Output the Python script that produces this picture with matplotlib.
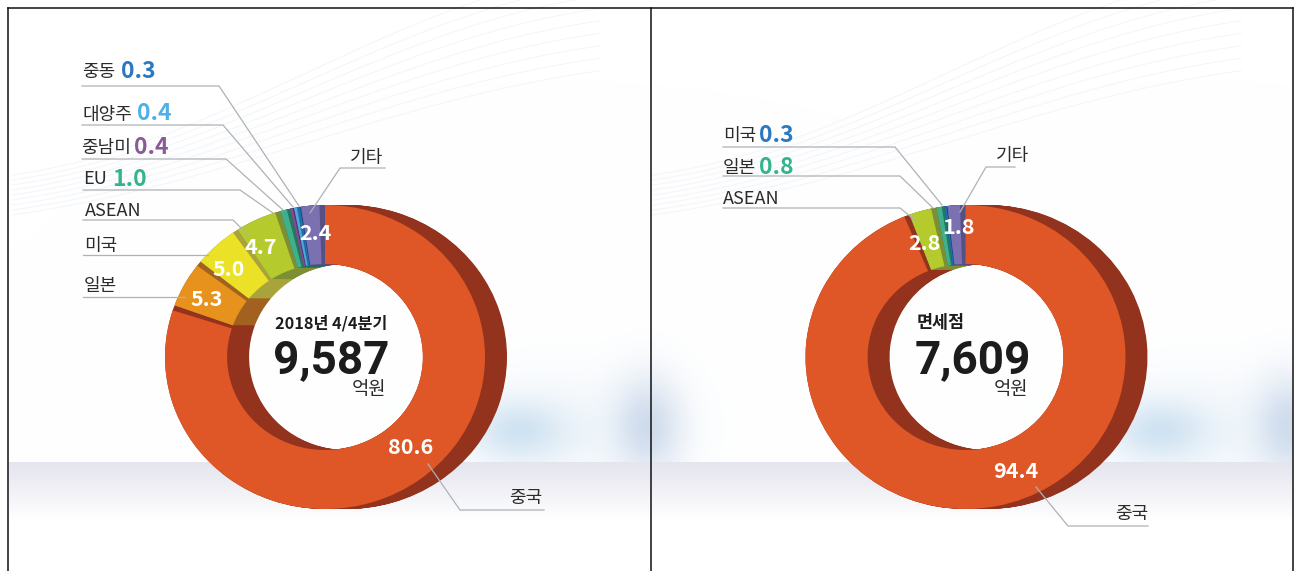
#!/usr/bin/env python3
"""Two 3D-look donut charts: 2018 Q4 e-commerce sales by region, all vs duty-free."""
import numpy as np
import matplotlib
matplotlib.use("Agg")
import matplotlib.pyplot as plt
from matplotlib.colors import to_rgb

plt.rcParams["font.family"] = ["Noto Sans CJK KR", "DejaVu Sans"]

W, H = 1303, 571

# left donut, clockwise from 12 o'clock
LEFT_NAMES = ["중국", "일본", "미국", "ASEAN", "EU", "중남미", "대양주", "중동", "기타"]
LEFT_VALUES = [80.6, 5.3, 5.0, 4.7, 1.0, 0.4, 0.4, 0.3, 2.4]
LEFT_TOTAL = "9,587"
LEFT_TITLE = "2018년 4/4분기"

# right donut
RIGHT_NAMES = ["중국", "ASEAN", "일본", "미국", "기타"]
RIGHT_VALUES = [94.4, 2.8, 0.8, 0.3, 1.8]
RIGHT_TOTAL = "7,609"
RIGHT_TITLE = "면세점"

UNIT = "억원"

# face colour, side colour
COLORS = {
    "중국": ("#df5726", "#94331d"),
    "일본": ("#e8921e", "#a3611f"),
    "미국": ("#ebe126", "#a8a33a"),
    "ASEAN": ("#b5cb2d", "#7e8f33"),
    "EU": ("#3fb08b", "#23785f"),
    "중남미": ("#7f4f8e", "#56306a"),
    "대양주": ("#4fa8dc", "#2f78a8"),
    "중동": ("#1f6fb4", "#14477c"),
    "기타": ("#7b70b0", "#565087"),
}
RIGHT_COLORS = {
    "중국": COLORS["중국"],
    "ASEAN": COLORS["ASEAN"],
    "일본": COLORS["EU"],
    "미국": COLORS["중동"],
    "기타": COLORS["기타"],
}

RX, RY = 160, 152
DEPTH = 22
LINE_C = "#aeb2b6"
TEXT_C = "#2b2b2b"


def background():
    yy, xx = np.mgrid[0:H, 0:W]
    img = np.ones((H, W, 3))
    # blurry blue patches, repeated in each panel
    for off in (0, 641):
        for cx, cy, sx, sy, amp, tint in [(517, 430, 48, 30, .14, (1, .6, .28)),
                                          (560, 430, 110, 60, .05, (1, .6, .28)),
                                          (648, 425, 34, 50, .16, (1, .75, .4))]:
            g = amp * np.exp(-((xx - cx - off) / sx) ** 2 - ((yy - cy) / sy) ** 2)
            for c in range(3):
                img[..., c] -= g * tint[c]
    # floor band below the horizon
    t = np.clip((yy - 462) / 58, 0, 1)
    band = np.array(to_rgb("#e4e5ee"))
    floor = band[None, None, :] * (1 - t[..., None]) + t[..., None]
    img = np.where((yy >= 462)[..., None], floor, img)
    img[:, :9] = 1
    img[:, 1293:] = 1
    return np.clip(img, 0, 1)


def wave_lines(ax, off):
    # faint swoosh across the top of a panel
    x = np.linspace(12, 600, 200)
    for i in range(9):
        y = 215 - 5 * i - (x - 12) * .14 - 62 * np.sin((x - 12) / 588 * np.pi / 2) ** 2 * (1 + i * .12)
        ax.plot(x + off, y, color="#f2f5f9", lw=.7, zorder=1)


def donut(fig, cx, cy, names, values, colors):
    ax = fig.add_axes([(cx - RX) / W, 1 - (cy + RY) / H,
                       (2 * RX + DEPTH) / W, 2 * RY / H])
    faces = [colors[n][0] for n in names]
    sides = [colors[n][1] for n in names]
    ring = dict(width=1 - 93 / 152, linewidth=0)
    # side wall: stack of dark rings stepping right
    for dx in np.linspace(DEPTH / RX, 0, 30):
        ax.pie(values, colors=sides, center=(dx, 0), radius=1, startangle=90,
               counterclock=False, wedgeprops=ring)
    wedges, _ = ax.pie(values, colors=faces, center=(0, 0), radius=1, startangle=90,
                       counterclock=False, wedgeprops=ring)
    # trim the clockwise end so the dark wall shows as a strip
    for w in wedges:
        w.set_theta1(w.theta1 + min(2.0, .35 * (w.theta2 - w.theta1)))
    ax.set_aspect("auto")
    ax.set_xlim(-1, 1 + DEPTH / RX)
    ax.set_ylim(-1, 1)
    ax.axis("off")


def leader(ax, xs, ys):
    ax.plot(xs, ys, color=LINE_C, lw=.9, solid_joinstyle="miter")


def label(ax, x, y, name, value=None, vx=None, color=None):
    ax.text(x, y + 1.5, name, fontsize=13, color=TEXT_C, ha="left", va="center")
    if value is not None:
        ax.text(vx, y + 1, value, fontsize=16.5, fontweight="bold", color=color,
                ha="left", va="center")


def center_text(ax, x, title, total, title_x, title_size):
    ax.text(title_x, 323, title, fontsize=title_size, fontweight="bold", color="#1c1c1c",
            ha="left", va="center")
    ax.text(x, 360, total, fontsize=33, fontweight="bold", color="#1c1c1c",
            family=["Roboto", "DejaVu Sans"], ha="center", va="center")
    ax.text(x + 38, 390, UNIT, fontsize=13.5, color=TEXT_C, ha="center", va="center")


def main():
    fig = plt.figure(figsize=(W / 100, H / 100), dpi=100)

    bg = fig.add_axes([0, 0, 1, 1])
    bg.imshow(background(), extent=(0, W, H, 0), aspect="auto", interpolation="bilinear")
    for off in (0, 641):
        wave_lines(bg, off)
    bg.set_xlim(0, W)
    bg.set_ylim(H, 0)
    bg.axis("off")

    donut(fig, 325, 357, LEFT_NAMES, LEFT_VALUES, COLORS)
    donut(fig, 965.5, 357, RIGHT_NAMES, RIGHT_VALUES, RIGHT_COLORS)

    ax = fig.add_axes([0, 0, 1, 1])
    ax.set_xlim(0, W)
    ax.set_ylim(H, 0)
    ax.axis("off")

    # panel frame
    for xs, ys in [([8, 8], [8, H]), ([8, 1293], [8, 8]),
                   ([651, 651], [8, H]), ([1293, 1293], [8, H])]:
        ax.plot(xs, ys, color="#111111", lw=1.1)

    # left panel leaders
    leader(ax, [82, 219, 299], [86, 86, 206])
    leader(ax, [82, 223, 293], [125, 125, 207])
    leader(ax, [82, 226, 283], [159, 159, 210])
    leader(ax, [83, 240, 273], [190, 190, 213])
    leader(ax, [83, 233, 248], [220, 220, 235])
    leader(ax, [83, 208], [255, 255])
    leader(ax, [83, 185], [297, 297])
    leader(ax, [385, 340, 310], [168, 168, 213])
    leader(ax, [428, 460, 544], [464, 510, 510])

    label(ax, 82, 71, "중동", "0.3", 121, "#2a78c0")
    label(ax, 83, 113, "대양주", "0.4", 137, "#4fb0e6")
    label(ax, 81, 147, "중남미", "0.4", 134, "#8a5a96")
    label(ax, 83, 178, "EU", "1.0", 112, "#33b48c")
    label(ax, 85, 210, "ASEAN")
    label(ax, 84, 245, "미국")
    label(ax, 84, 285, "일본")
    label(ax, 350, 157, "기타")
    label(ax, 509, 496, "중국")

    for x, y, s in [(207, 298, "5.3"), (229, 268, "5.0"), (261, 247, "4.7"),
                    (315, 232, "2.4"), (411, 447, "80.6")]:
        ax.text(x, y + 1, s, fontsize=15.5, fontweight="bold", color="white", ha="center", va="center")
    center_text(ax, 331, LEFT_TITLE, LEFT_TOTAL, 275, 11.7)

    # right panel leaders
    leader(ax, [723, 895, 942], [147, 147, 205])
    leader(ax, [723, 900, 933], [176, 176, 208])
    leader(ax, [723, 900, 916], [208, 208, 221])
    leader(ax, [1015, 986, 960], [167, 167, 212])
    leader(ax, [1036, 1068, 1148], [487, 526, 526])

    label(ax, 723, 135, "미국", "0.3", 759, "#2a78c0")
    label(ax, 723, 166, "일본", "0.8", 759, "#33b48c")
    label(ax, 723, 198, "ASEAN")
    label(ax, 996, 155, "기타")
    label(ax, 1115, 512, "중국")

    for x, y, s in [(924, 243, "2.8"), (958, 227, "1.8"), (1016, 470, "94.4")]:
        ax.text(x, y + 1, s, fontsize=15.5, fontweight="bold", color="white", ha="center", va="center")
    center_text(ax, 973, RIGHT_TITLE, RIGHT_TOTAL, 917, 12.5)

    fig.savefig("out.png", dpi=100)
    plt.close(fig)


if __name__ == "__main__":
    main()
